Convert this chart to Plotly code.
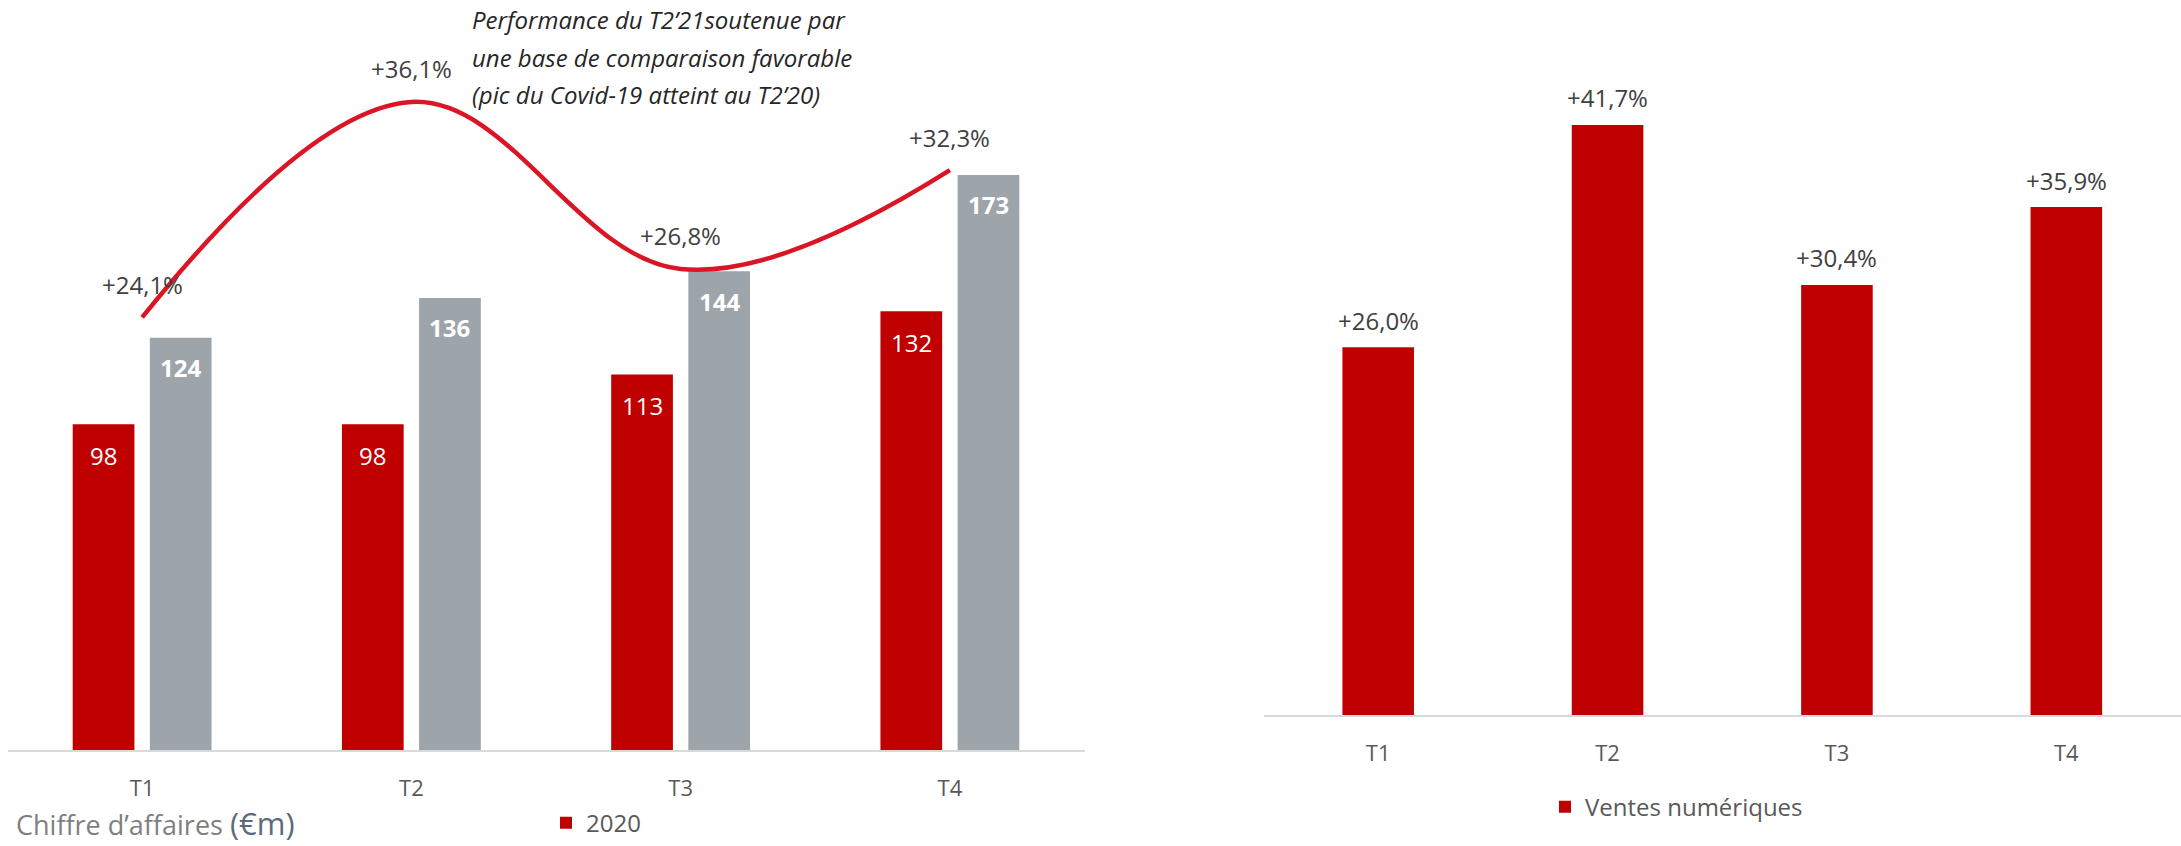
import plotly.graph_objects as go

# ---------------- data ----------------
quarters = ["T1", "T2", "T3", "T4"]
ca_2020 = [98, 98, 113, 132]
ca_2021 = [124, 136, 144, 173]
growth_ca = [24.1, 36.1, 26.8, 32.3]
growth_ca_labels = ["+24,1%", "+36,1%", "+26,8%", "+32,3%"]
digital_growth = [26.0, 41.7, 30.4, 35.9]
digital_labels = ["+26,0%", "+41,7%", "+30,4%", "+35,9%"]
label_2020 = "2020"
label_2021 = "2021"
label_digital = "Ventes numériques"
note_lines = [
    "Performance du T2’21soutenue par",
    "une base de comparaison favorable",
    "(pic du Covid-19 atteint au T2’20)",
]

# ---------------- style ----------------
W, H = 2181, 846
RED = "#C00000"
GREY = "#9DA4AA"
LINE_RED = "#DA1525"
TXT = "#595959"
FONT = "Open Sans"


def fx(p):
    return p / W


def fy(p):
    return 1 - p / H


fig = go.Figure()

fig.add_trace(go.Bar(x=quarters, y=ca_2020, name=label_2020, marker_color=RED,
                     xaxis="x", yaxis="y", legend="legend", showlegend=True,
                     marker_line_width=0))
fig.add_trace(go.Bar(x=quarters, y=ca_2021, name=label_2021, marker_color=GREY,
                     xaxis="x", yaxis="y", showlegend=False, marker_line_width=0))
fig.add_trace(go.Scatter(x=quarters, y=growth_ca, mode="lines", xaxis="x", yaxis="y2",
                         line=dict(color=LINE_RED, width=4.5, shape="spline", smoothing=1.1),
                         showlegend=False, hoverinfo="skip"))
fig.add_trace(go.Bar(x=quarters, y=digital_growth, name=label_digital, marker_color=RED,
                     xaxis="x3", yaxis="y3", legend="legend2", showlegend=True,
                     width=0.312, marker_line_width=0))

annotations = []
# values inside bars
for q, v in zip(quarters, ca_2020):
    annotations.append(dict(x=q, y=v, xref="x", yref="y", text=str(v), showarrow=False,
                            xshift=-38.5, yshift=-31, yanchor="middle",
                            font=dict(family=FONT, size=24, color="white")))
for q, v in zip(quarters, ca_2021):
    annotations.append(dict(x=q, y=v, xref="x", yref="y", text="<b>%d</b>" % v, showarrow=False,
                            xshift=38.5, yshift=-30, yanchor="middle",
                            font=dict(family=FONT, size=24, color="white")))
# growth labels above line
for q, v, t in zip(quarters, growth_ca, growth_ca_labels):
    annotations.append(dict(x=q, y=v, xref="x", yref="y2", text=t, showarrow=False,
                            yshift=33, yanchor="middle",
                            font=dict(family=FONT, size=24, color="#404040")))
# digital labels
for q, v, t in zip(quarters, digital_growth, digital_labels):
    annotations.append(dict(x=q, y=v, xref="x3", yref="y3", text=t, showarrow=False,
                            yshift=27, yanchor="middle",
                            font=dict(family=FONT, size=24, color="#404040")))
# note
for line, yc in zip(note_lines, [20, 58, 95]):
    annotations.append(dict(x=fx(470), y=fy(yc), xref="paper", yref="paper", text="<i>%s</i>" % line,
                            showarrow=False, xanchor="left", yanchor="middle",
                            font=dict(family=FONT, size=24, color="#262626")))
# caption
annotations.append(dict(x=fx(14), y=fy(825), xref="paper", yref="paper",
                        text="Chiffre d’affaires <span style='color:#5B6B7A;font-size:31px'>(€m)</span>",
                        showarrow=False, xanchor="left", yanchor="middle",
                        font=dict(family=FONT, size=27, color="#7F7F7F")))

axis_common = dict(showgrid=False, zeroline=False, showline=True, linecolor="#D9D9D9",
                   linewidth=2, ticks="", tickfont=dict(family=FONT, size=22, color=TXT),
                   ticklabelstandoff=17, fixedrange=True)

fig.update_layout(
    width=W, height=H,
    margin=dict(l=0, r=0, t=0, b=0),
    paper_bgcolor="white", plot_bgcolor="white",
    barmode="group", bargap=0.427, bargroupgap=0.2,
    font=dict(family=FONT, color=TXT),
    xaxis=dict(domain=[fx(7.5), fx(1084.5)], anchor="y", **axis_common),
    yaxis=dict(domain=[fy(752), fy(52)], range=[0, 210], visible=False, fixedrange=True),
    yaxis2=dict(overlaying="y", range=[0, 700 / 18.0], visible=False, fixedrange=True),
    xaxis3=dict(domain=[fx(1263.5), 1.0], anchor="y3", **axis_common),
    yaxis3=dict(domain=[fy(717), fy(52)], range=[0, 665 / 14.19], visible=False, fixedrange=True),
    legend=dict(x=fx(546), y=fy(825), xanchor="left", yanchor="middle", orientation="h",
                font=dict(family=FONT, size=24, color=TXT), bgcolor="rgba(0,0,0,0)"),
    legend2=dict(x=fx(1545), y=fy(809), xanchor="left", yanchor="middle", orientation="h",
                 font=dict(family=FONT, size=24, color=TXT), bgcolor="rgba(0,0,0,0)"),
    annotations=annotations,
    showlegend=True,
)

fig.write_html("out.html", config={"displayModeBar": False},
               post_script="document.body.style.margin='0';document.body.style.overflow='hidden';")
